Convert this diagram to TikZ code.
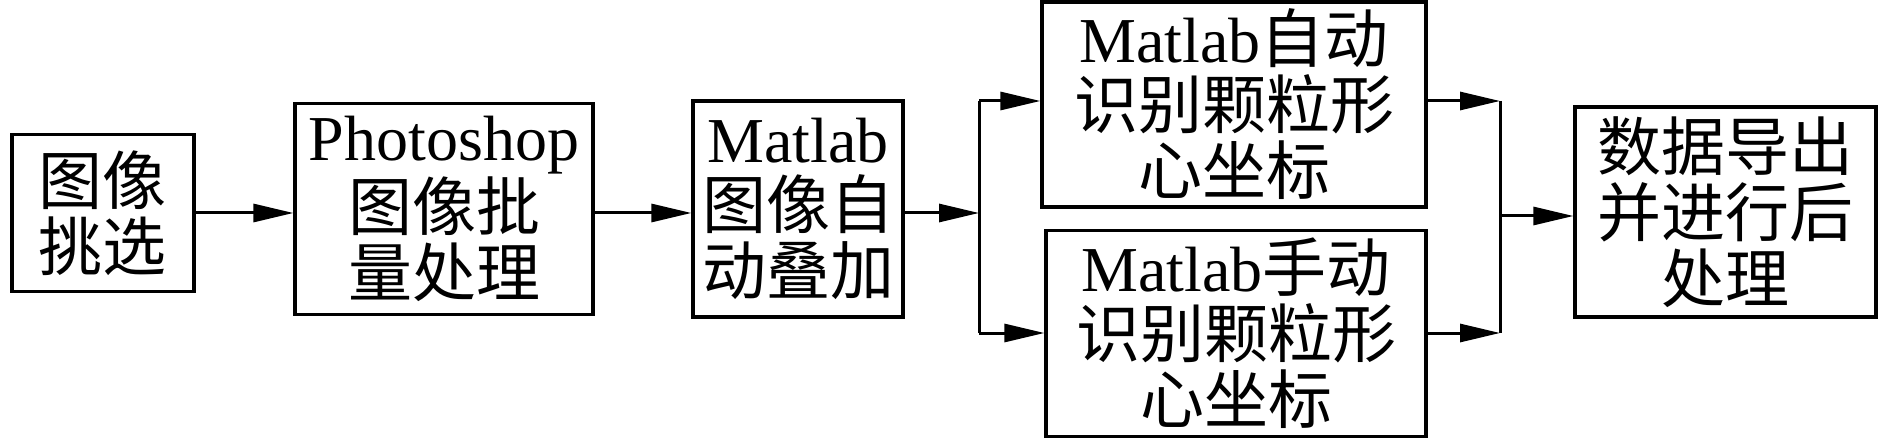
\documentclass[tikz,border=0pt]{standalone}
\usepackage{fontspec}
\setmainfont{Liberation Serif}
\newfontfamily\cjk{Noto Sans CJK SC}
\usetikzlibrary{arrows.meta}
\begin{document}
\begin{tikzpicture}[x=0.5pt,y=-0.5pt,
  box/.style={draw, line width=1.6pt, align=center, inner sep=0pt, font=\fontsize{32}{33}\selectfont},
  conn/.style={line width=1.5pt},
  arr/.style={conn, -{Triangle[length=20pt,width=9pt]}}]
\useasboundingbox (0,0) rectangle (1890,438);
\node[box, minimum width=91pt, minimum height=78.5pt] (b1) at (103,213) {{\cjk 图像}\\{\cjk 挑选}};
\node[box, minimum width=149pt, minimum height=105.5pt] (b2) at (444,209) {Photoshop\\{\cjk 图像批}\\{\cjk 量处理}};
\node[box, minimum width=105pt, minimum height=108pt] (b3) at (798,209) {Matlab\\{\cjk 图像自}\\{\cjk 动叠加}};
\node[box, minimum width=192pt, minimum height=102.5pt] (b4) at (1234,104.5) {Matlab{\cjk 自动}\\{\cjk 识别颗粒形}\\{\cjk 心坐标}};
\node[box, minimum width=190pt, minimum height=103pt] (b5) at (1236,333.5) {Matlab{\cjk 手动}\\{\cjk 识别颗粒形}\\{\cjk 心坐标}};
\node[box, minimum width=150.5pt, minimum height=105pt] (b6) at (1725.5,212) {{\cjk 数据导出}\\{\cjk 并进行后}\\{\cjk 处理}};
\coordinate (jm) at (979,213);
\coordinate (ja) at (979,101);
\coordinate (jb) at (979,333);
\coordinate (km) at (1500,216);
\coordinate (ka) at (1500,101);
\coordinate (kb) at (1500,333);
\draw[arr] (b1.east) -- (b1.east -| b2.west);
\draw[arr] (b2.east |- b1.east) -- (b3.west |- b1.east);
\draw[arr] (b3.east |- jm) -- (jm);
\draw[conn] (ja) -- (jb);
\draw[arr] (ja) -- (ja -| b4.west);
\draw[arr] (jb) -- (jb -| b5.west);
\draw[arr] (ka -| b4.east) -- (ka);
\draw[arr] (kb -| b5.east) -- (kb);
\draw[conn] (ka) -- (kb);
\draw[arr] (km) -- (km -| b6.west);
\end{tikzpicture}
\end{document}
